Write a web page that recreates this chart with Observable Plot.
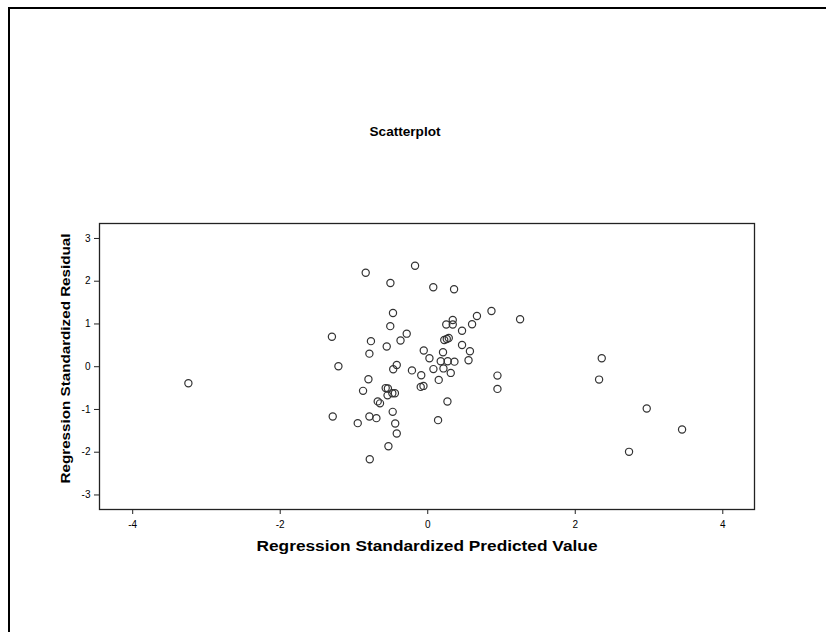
<!DOCTYPE html>
<html>
<head>
<meta charset="utf-8">
<script src="https://cdn.jsdelivr.net/npm/d3@7"></script>
<script src="https://cdn.jsdelivr.net/npm/@observablehq/plot@0.6"></script>
<style>
  html, body { margin: 0; padding: 0; background: #fff; overflow: hidden; }
  #wrap { position: relative; width: 826px; height: 632px; }
  #border { position: absolute; left: 8px; top: 7px; width: 900px; height: 700px;
            border-left: 2px solid #000; border-top: 2px solid #000; box-sizing: border-box; }
  #chart { position: absolute; left: 0; top: 0; }
</style>
</head>
<body>
<div id="wrap"><div id="border"></div><div id="chart"></div></div>
<script>
const chartTitle = "Scatterplot";
const xLabel = "Regression Standardized Predicted Value";
const yLabel = "Regression Standardized Residual";
const xTicks = [-4, -2, 0, 2, 4];
const yTicks = [-3, -2, -1, 0, 1, 2, 3];

// Standardized predicted value (x) and standardized residual (y)
const predicted = [
  -3.245, -0.841, -0.172, -0.506, 0.075, 0.357, -0.471, -0.508, -1.299, -0.770,
  -0.556, -0.369, -0.285, -0.791, -1.211, -0.054, 0.023, -0.420, -0.468, -0.214,
  0.864, 1.252, 0.667, 0.601, 0.339, 0.251, 0.339, 0.465, 0.224, 0.258,
  0.285, 0.465, 0.572, 0.207, 0.553, 0.176, 0.271, 0.362, 0.077, 0.213,
  0.312, 0.149, -0.088, -0.095, -0.058, 0.945, 0.945, -0.804, -0.877, -0.570,
  -0.540, -0.545, -0.480, -0.445, -0.678, -0.647, 0.267, -0.475, -1.288, -0.949,
  -0.791, -0.696, -0.441, -0.420, 0.140, -0.533, -0.786, 2.359, 2.323, 2.969,
  3.448, 2.729
];
const residual = [
  -0.386, 2.199, 2.362, 1.958, 1.860, 1.811, 1.257, 0.949, 0.701, 0.598,
  0.472, 0.612, 0.773, 0.306, 0.012, 0.379, 0.199, 0.042, -0.058, -0.086,
  1.304, 1.110, 1.187, 0.993, 1.093, 0.988, 0.988, 0.841, 0.626, 0.649,
  0.673, 0.509, 0.362, 0.339, 0.152, 0.129, 0.129, 0.119, -0.056, -0.040,
  -0.145, -0.308, -0.199, -0.472, -0.449, -0.208, -0.519, -0.292, -0.565, -0.500,
  -0.510, -0.670, -0.619, -0.619, -0.811, -0.857, -0.815, -1.056, -1.166, -1.320,
  -1.166, -1.203, -1.329, -1.563, -1.250, -1.862, -2.166, 0.199, -0.301, -0.979,
  -1.470, -1.991
];

const data = predicted.map((x, i) => ({x, y: residual[i]}));
const fmt = d => String(d);

const plot = Plot.plot({
  width: 826,
  height: 632,
  marginLeft: 99,
  marginRight: 72,
  marginTop: 223,
  marginBottom: 123,
  style: {fontFamily: "'Liberation Sans', Arial, sans-serif", fontSize: "10px", color: "#000", background: "transparent"},
  x: {domain: [-4.45, 4.43]},
  y: {domain: [-3.34, 3.35]},
  marks: [
    Plot.frame({stroke: "#222", strokeWidth: 1.3}),
    Plot.axisX({ticks: xTicks, tickFormat: fmt, tickSize: 5, tickPadding: 6, stroke: "#222",
      fontSize: 10, label: null}),
    Plot.axisY({ticks: yTicks, tickFormat: fmt, tickSize: 5, tickPadding: 4, stroke: "#222",
      fontSize: 10, label: null}),
    Plot.dot(data, {x: "x", y: "y", r: 3.6, stroke: "#333", strokeWidth: 1.2, fill: "none"}),
    Plot.text([chartTitle], {frameAnchor: "top", dy: -97, dx: -22, text: d => d,
      fontWeight: "bold", fontSize: 13, fill: "#000"}),
    Plot.text([xLabel], {frameAnchor: "bottom", dy: 41, text: d => d,
      fontWeight: "bold", fontSize: 14, fill: "#000"}),
    Plot.text([yLabel], {frameAnchor: "left", dx: -34, dy: -8, rotate: -90, textAnchor: "middle",
      text: d => d, fontWeight: "bold", fontSize: 13.5, fill: "#000"})
  ]
});
// stretch the axis labels to the widths seen in the reference
const stretch = {[xLabel]: 341, [yLabel]: 250, [chartTitle]: 71};
plot.querySelectorAll("text").forEach(t => {
  const w = stretch[t.textContent];
  if (w) { t.setAttribute("textLength", w); t.setAttribute("lengthAdjust", "spacingAndGlyphs"); }
});
document.getElementById("chart").appendChild(plot);
</script>
</body>
</html>
